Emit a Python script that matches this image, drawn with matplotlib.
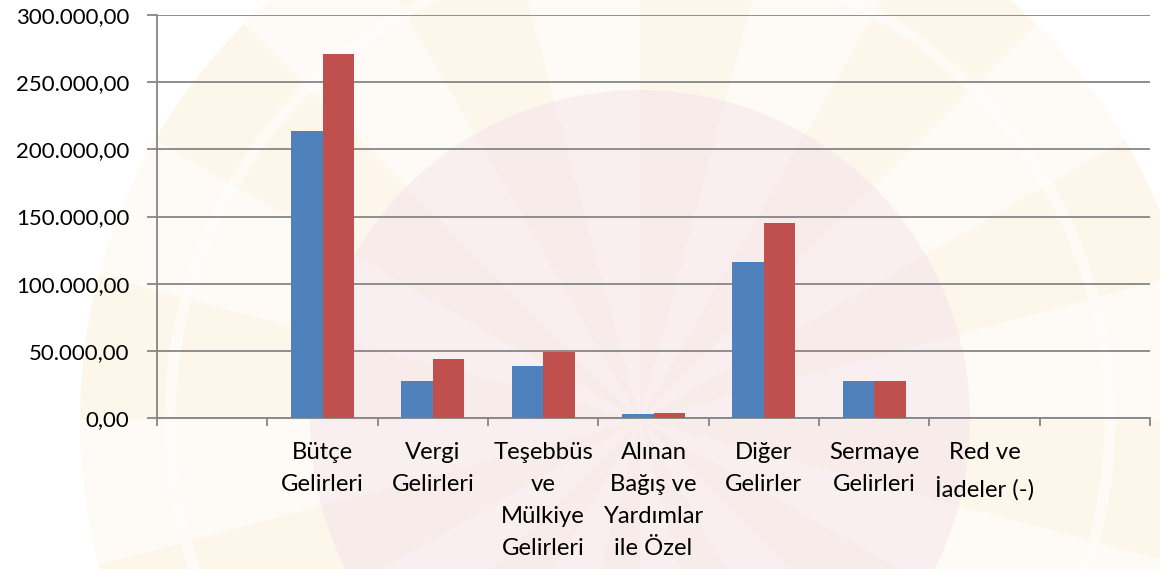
import numpy as np
import matplotlib
matplotlib.use("Agg")
import matplotlib.pyplot as plt
from matplotlib.patches import Wedge, Circle
from matplotlib.ticker import FuncFormatter, MultipleLocator

# ─── Data ────────────────────────────────────────────────────────────────────
categories = [
    "",
    "Bütçe\nGelirleri",
    "Vergi\nGelirleri",
    "Teşebbüs\nve\nMülkiye\nGelirleri",
    "Alınan\nBağış ve\nYardımlar\nile Özel",
    "Diğer\nGelirler",
    "Sermaye\nGelirleri",
    "Red ve\nİadeler (-)",
    "",
]
series_1 = [0, 213500, 27500, 38700, 3300, 116000, 27500, 0, 0]
series_2 = [0, 270600, 43900, 49100, 4000, 145000, 27500, 0, 0]

# ─── Style ───────────────────────────────────────────────────────────────────
COLOUR_1 = "#4F81BD"
COLOUR_2 = "#C0504D"
COLOUR_AXIS = "#868686"
FONT = ["Lato", "DejaVu Sans"]


def tr_fmt(v, _pos):
    s = f"{v:,.2f}"
    return s.replace(",", "X").replace(".", ",").replace("X", ".")


def main():
    plt.rcParams["font.family"] = FONT
    fig = plt.figure(figsize=(11.6, 5.69), dpi=100)

    # faint watermark-like backdrop
    bg = fig.add_axes([0, 0, 1, 1], zorder=0)
    bg.set_xlim(0, 1160)
    bg.set_ylim(569, 0)
    bg.set_aspect("equal")
    bg.axis("off")
    cx, cy = 640, 420
    for k in range(24):
        a0 = k * 15
        col = "#FDEFD6" if k % 2 == 0 else "#FEF7EC"
        bg.add_patch(Wedge((cx, cy), 560, a0, a0 + 15, color=col, alpha=0.5, lw=0))
    bg.add_patch(Circle((cx, cy), 470, fill=False, ec="white", lw=8, alpha=0.6))
    bg.add_patch(Circle((cx, cy), 330, color="#F5E3EC", alpha=0.5, lw=0))

    ax = fig.add_axes([157 / 1160, 1 - 418 / 569, 993 / 1160, 403 / 569], zorder=1)
    ax.patch.set_alpha(0)

    x = np.arange(len(categories))
    w = 0.285
    ax.bar(x - w / 2, series_1, width=w, color=COLOUR_1, zorder=3)
    ax.bar(x + w / 2, series_2, width=w, color=COLOUR_2, zorder=3)

    ax.set_xlim(-0.5, len(categories) - 0.5)
    ax.set_ylim(0, 300000)
    ax.yaxis.set_major_locator(MultipleLocator(50000))
    ax.yaxis.set_major_formatter(FuncFormatter(tr_fmt))
    ax.grid(axis="y", color=COLOUR_AXIS, lw=1.3, zorder=1)

    ax.set_xticks(np.arange(len(categories) + 1) - 0.5)
    ax.set_xticklabels([])
    ax.set_xticks(x, minor=True)
    ax.set_xticklabels(categories, minor=True, fontsize=17.2, linespacing=1.66,
                       va="top", ha="center")
    ax.tick_params(axis="x", which="minor", length=0, pad=17)
    ax.tick_params(axis="x", which="major", length=6, width=1.3, color=COLOUR_AXIS)
    ax.tick_params(axis="y", length=7, width=1.3, color=COLOUR_AXIS,
                   labelsize=16, pad=13)

    for side in ("top", "right"):
        ax.spines[side].set_visible(False)
    for side in ("left", "bottom"):
        ax.spines[side].set_color(COLOUR_AXIS)
        ax.spines[side].set_linewidth(1.3)

    fig.savefig("out.png", dpi=100)
    plt.close(fig)


if __name__ == "__main__":
    main()
